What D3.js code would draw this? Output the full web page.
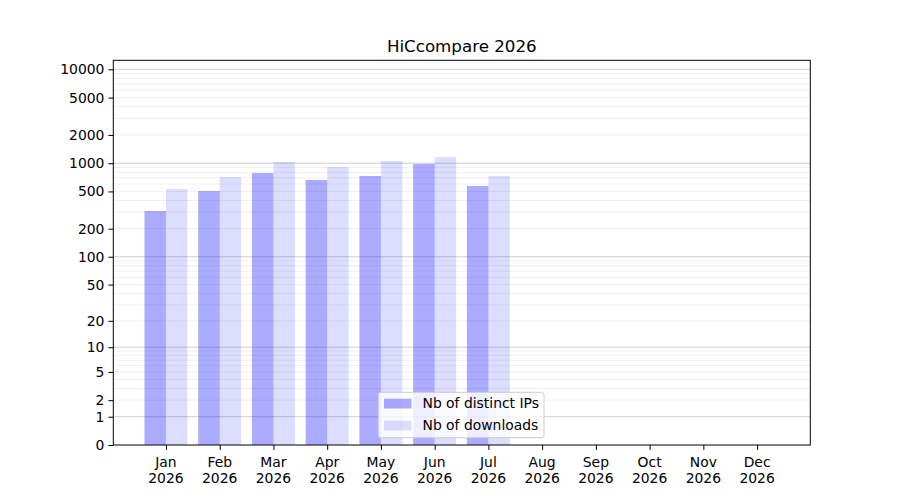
<!DOCTYPE html>
<html><head><meta charset="utf-8">
<script src="https://cdn.jsdelivr.net/npm/d3@7"></script>
<style>body{margin:0;background:#fff}svg{font-family:"DejaVu Sans",sans-serif}</style>
</head><body><svg id="c" width="900" height="500"></svg>
<script>
const months = ["Jan","Feb","Mar","Apr","May","Jun","Jul","Aug","Sep","Oct","Nov","Dec"];
const year = "2026";
const distinctIPs = [309, 505, 786, 662, 730, 981, 572];
const downloads = [531, 713, 1030, 911, 1056, 1165, 730];
const yTicks = [0,1,2,5,10,20,50,100,200,500,1000,2000,5000,10000];
const majorGrid = [1,10,100,1000,10000];
const minorGrid = [];
[1,10,100,1000].forEach(d=>{for(let k=2;k<=9;k++) minorGrid.push(d*k);});
const seriesNames = ["Nb of distinct IPs","Nb of downloads"];
const colors = ["rgba(0,0,255,0.33)","rgba(0,0,255,0.133)"];

const svg = d3.select("#c");
const L=113.3, R=810.3, T=60.3, B=445;
const x = d3.scaleLinear().domain([-0.98, 11.99]).range([L,R]);
const y = d3.scaleSymlog().constant(1).domain([0, 12470]).range([B,T]);

const g = svg.append("g");
g.selectAll(".mg").data(minorGrid).join("line")
 .attr("x1",L).attr("x2",R).attr("y1",d=>y(d)).attr("y2",d=>y(d))
 .attr("stroke","#ececec").attr("stroke-width",0.8);
g.selectAll(".Mg").data(majorGrid).join("line")
 .attr("x1",L).attr("x2",R).attr("y1",d=>y(d)).attr("y2",d=>y(d))
 .attr("stroke","#c4c4c4").attr("stroke-width",0.8);

const bw = 0.4;
g.selectAll(".b1").data(distinctIPs).join("rect")
 .attr("x",(d,i)=>x(i-bw)).attr("width",x(bw)-x(0))
 .attr("y",d=>y(d)).attr("height",d=>B-y(d)).attr("fill",colors[0]);
g.selectAll(".b2").data(downloads).join("rect")
 .attr("x",(d,i)=>x(i)).attr("width",x(bw)-x(0))
 .attr("y",d=>y(d)).attr("height",d=>B-y(d)).attr("fill",colors[1]);

// frame
svg.append("rect").attr("x",L).attr("y",T).attr("width",R-L).attr("height",B-T)
 .attr("fill","none").attr("stroke","#000").attr("stroke-width",1);

// y axis
const ya = svg.append("g").attr("transform",`translate(${L},0)`)
 .call(d3.axisLeft(y).tickValues(yTicks).tickFormat(d3.format("d")).tickSize(4.9).tickPadding(4));
ya.select(".domain").remove();
ya.selectAll("text").attr("font-size","13.9px").attr("fill","#000").attr("font-family","DejaVu Sans");
ya.selectAll("line").attr("stroke","#000");

// x axis
const xa = svg.append("g").attr("transform",`translate(0,${B})`)
 .call(d3.axisBottom(x).tickValues(d3.range(12)).tickFormat("").tickSize(4.9));
xa.select(".domain").remove();
xa.selectAll("line").attr("stroke","#000");
const xl = svg.append("g").selectAll("text").data(months).join("text")
 .attr("x",(d,i)=>x(i)).attr("y",B+22).attr("text-anchor","middle")
 .attr("font-size","13.9px").attr("fill","#000");
xl.append("tspan").attr("x",(d,i)=>x(i)).text(d=>d);
xl.append("tspan").attr("x",(d,i)=>x(i)).attr("dy","16").text(year);

// title
svg.append("text").attr("x",(L+R)/2).attr("y",52).attr("text-anchor","middle")
 .attr("font-size","16.7px").attr("fill","#000").text("HiCcompare 2026");

// legend
const lg = svg.append("g");
lg.append("rect").attr("x",378.3).attr("y",392.3).attr("width",165.7).attr("height",45.4)
 .attr("rx",2.5).attr("fill","rgba(255,255,255,0.8)").attr("stroke","#cccccc").attr("stroke-width",1);
seriesNames.forEach((n,i)=>{
  const yy = 398.7 + i*22;
  lg.append("rect").attr("x",384).attr("y",yy).attr("width",27.5).attr("height",9.8).attr("fill",colors[i]);
  lg.append("text").attr("x",422.5).attr("y",yy+9.6).attr("font-size","13.9px").attr("fill","#000").text(n);
});
</script></body></html>
